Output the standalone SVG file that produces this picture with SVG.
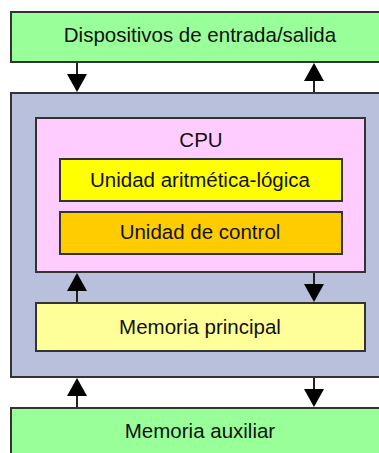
<svg xmlns="http://www.w3.org/2000/svg" width="379" height="453" viewBox="0 0 379 453">
<defs>
<style>
.box{stroke:#333;stroke-width:2}
.t{font-family:"Liberation Sans",Arial,sans-serif;font-size:20.5px;fill:#111;text-anchor:middle}
.c{stroke:#222;stroke-width:2;fill:none}
</style>
</defs>
<rect width="379" height="453" fill="#fff"/>
<g id="io">
<rect class="box" x="11" y="12" width="380" height="50" fill="#99ff99"/>
<text class="t" x="200" y="42">Dispositivos de entrada/salida</text>
</g>
<g id="computer">
<rect class="box" x="11" y="93" width="380" height="284" fill="#b8c0dc"/>
</g>
<g id="cpu">
<rect class="box" x="36" y="118" width="329" height="154" fill="#ffccff"/>
<text class="t" x="201" y="147">CPU</text>
</g>
<g id="alu">
<rect class="box" x="60" y="159" width="282" height="42" fill="#ffff00"/>
<text class="t" x="200" y="187">Unidad aritmética-lógica</text>
</g>
<g id="cu">
<rect class="box" x="60" y="212" width="282" height="42" fill="#ffcc00"/>
<text class="t" x="200" y="239">Unidad de control</text>
</g>
<g id="mem">
<rect class="box" x="36" y="303" width="329" height="48" fill="#ffff99"/>
<text class="t" x="200" y="334">Memoria principal</text>
</g>
<g id="aux">
<rect class="box" x="11" y="408" width="380" height="60" fill="#99ff99"/>
<text class="t" x="200" y="438">Memoria auxiliar</text>
</g>
<g id="connectors">
<line x1="77" y1="63" x2="77" y2="74" class="c"/>
<path d="M67,74 L87,74 L77,92 z" fill="#000"/>
<line x1="314" y1="92" x2="314" y2="81" class="c"/>
<path d="M304,81 L324,81 L314,63 z" fill="#000"/>
<line x1="77" y1="302" x2="77" y2="291" class="c"/>
<path d="M67,291 L87,291 L77,273 z" fill="#000"/>
<line x1="314" y1="273" x2="314" y2="284" class="c"/>
<path d="M304,284 L324,284 L314,302 z" fill="#000"/>
<line x1="77" y1="407" x2="77" y2="396" class="c"/>
<path d="M67,396 L87,396 L77,378 z" fill="#000"/>
<line x1="314" y1="378" x2="314" y2="389" class="c"/>
<path d="M304,389 L324,389 L314,407 z" fill="#000"/>
</g>
</svg>
